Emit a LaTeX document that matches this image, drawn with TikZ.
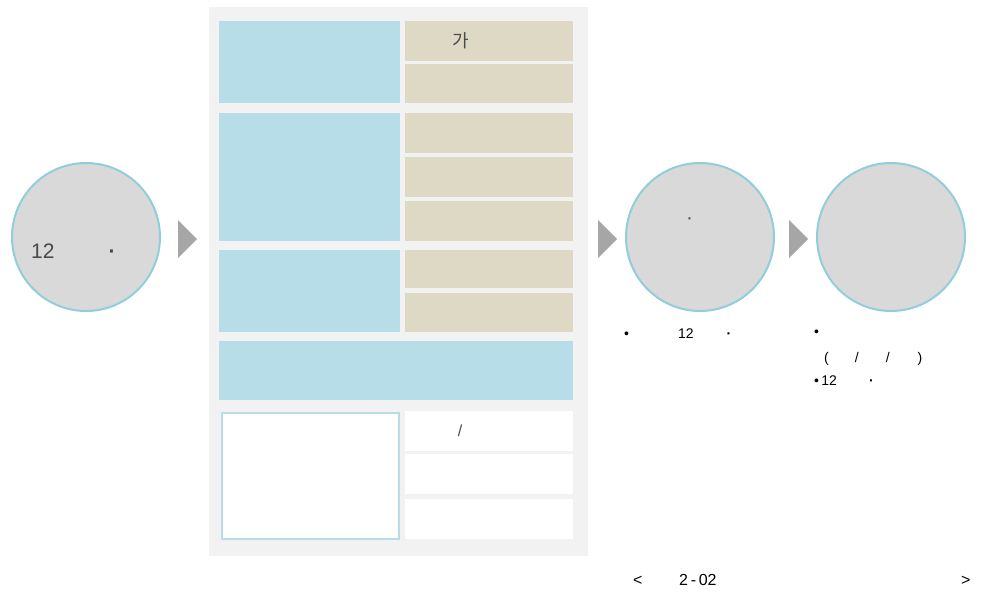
\documentclass[tikz,border=0pt]{standalone}
\usepackage{fontspec}
\setmainfont{Liberation Sans}
\newfontfamily\krfont{Noto Sans CJK KR}
\definecolor{panelgray}{HTML}{F2F2F2}
\definecolor{stagegray}{HTML}{D9D9D9}
\definecolor{ringblue}{HTML}{92CDDC}
\definecolor{cellblue}{HTML}{B7DDE8}
\definecolor{cellbeige}{HTML}{DDD9C4}
\definecolor{arrowgray}{HTML}{A6A6A6}
\definecolor{inktext}{HTML}{4A4A4A}
\newcommand{\pt}{\textbf{·}}
\begin{document}
\begin{tikzpicture}[x=1pt,y=-1pt,
  stage/.style={circle,draw=ringblue,line width=2pt,fill=stagegray,minimum size=148pt,inner sep=0pt},
  cell/.style={anchor=north west,inner sep=0pt,minimum width=168pt,minimum height=40pt},
  bluecell/.style={cell,fill=cellblue,minimum width=181pt},
  tancell/.style={cell,fill=cellbeige},
  whitecell/.style={cell,fill=white},
  steparrow/.style={fill=arrowgray},
  intext/.style={inner sep=0pt,text=inktext},
  note/.style={inner sep=0pt,anchor=base west,font=\fontsize{14}{16}\selectfont}]
\useasboundingbox (0,0) rectangle (981,592);
% left stage
\node[stage] (start) at (86,237) {};
\node[intext,anchor=base west,font=\fontsize{21}{24}\selectfont] (starttxt) at (31,258) {12\hspace{54pt}\pt};
\fill[steparrow] (178,220) -- ++(19,19) -- ++(-19,19) -- cycle;
% panel with cells
\node[anchor=north west,inner sep=0pt,fill=panelgray,minimum width=379pt,minimum height=549pt] (panel) at (209,7) {};
\node[bluecell,minimum height=82pt] (b1) at (219,21) {};
\node[bluecell,minimum height=128pt] (b2) at (219,113) {};
\node[bluecell,minimum height=82pt] (b3) at (219,250) {};
\node[bluecell,minimum width=354pt,minimum height=59pt] (b4) at (219,341) {};
\node[tancell] (t1) at (405,21) {};
\node[tancell,minimum height=39pt] (t2) at (405,64) {};
\node[tancell] (t3) at (405,113) {};
\node[tancell] (t4) at (405,157) {};
\node[tancell] (t5) at (405,201) {};
\node[tancell,minimum height=38pt] (t6) at (405,250) {};
\node[tancell,minimum height=39pt] (t7) at (405,293) {};
\node[intext,font=\fontsize{18}{20}\krfont] (t1txt) at (461,41) {가};
\node[whitecell,draw=cellblue,line width=2pt,minimum width=177pt,minimum height=126pt] (w0) at (221,412) {};
\node[whitecell] (w1) at (405,411) {};
\node[whitecell] (w2) at (405,454) {};
\node[whitecell] (w3) at (405,499) {};
\node[intext,font=\fontsize{16}{18}\selectfont] (w1txt) at (460,431) {/};
% right stages
\fill[steparrow] (598,220) -- ++(19,19) -- ++(-19,19) -- cycle;
\node[stage] (mid) at (700,237) {};
\node[intext,font=\fontsize{14}{16}\selectfont] (midtxt) at (690,221) {\pt};
\fill[steparrow] (789,220) -- ++(19,19) -- ++(-19,19) -- cycle;
\node[stage] (goal) at (891,237) {};
% notes below
\node[note] (midnote) at (624,338) {•\hspace{49pt}12\hspace{33pt}\pt};
\node[note] (goalnote1) at (814,336) {•};
\node[note] (goalnote2) at (824,362) {(\hspace{26pt}/\hspace{27pt}/\hspace{28pt})};
\node[note] (goalnote3) at (814,385) {•\,12\hspace{32pt}\pt};
\node[note,font=\fontsize{16}{18}\selectfont] (pgl) at (633,585) {<};
\node[note,font=\fontsize{16}{18}\selectfont] (pgnum) at (679,585) {2\,-\,02};
\node[note,font=\fontsize{16}{18}\selectfont] (pgr) at (961,585) {>};
\end{tikzpicture}
\end{document}
